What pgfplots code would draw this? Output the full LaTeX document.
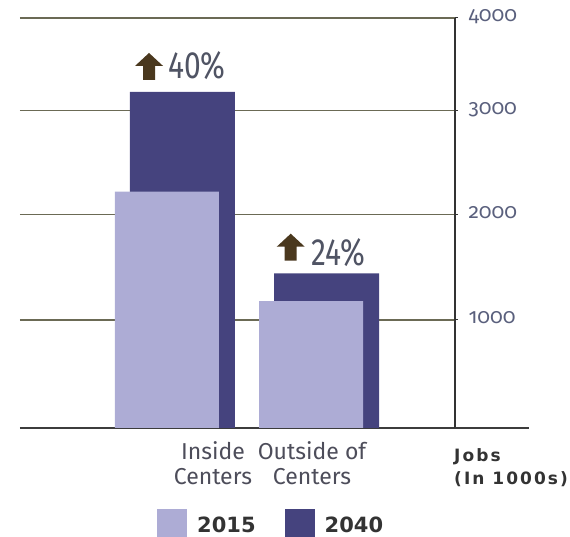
\documentclass[border=0pt]{standalone}
\usepackage{pgfplots}
\pgfplotsset{compat=1.18}
\usepackage{fontspec}
\usepackage{graphicx}
\setmainfont{Fira Sans}
\newfontfamily\tickfont[RawFeature=+onum]{Fira Sans}
\newcommand\osf[1]{{\tickfont\addfontfeature{Numbers=OldStyle}#1}}
\newfontfamily\legfont{DejaVu Sans}
\newfontfamily\jobsfont[LetterSpace=12.0]{DejaVu Sans}
\definecolor{lightbar}{HTML}{ADACD5}
\definecolor{darkbar}{HTML}{45437E}
\definecolor{gridc}{HTML}{6B6A55}
\definecolor{axisc}{HTML}{333333}
\definecolor{basec}{HTML}{3C3C3C}
\definecolor{arrowc}{HTML}{4A381E}
\definecolor{pctc}{HTML}{505464}
\definecolor{catc}{HTML}{4D4D5A}
\definecolor{tickc}{HTML}{5A607D}
\definecolor{legc}{HTML}{333333}
\begin{document}
\begin{tikzpicture}
\useasboundingbox (-20pt,-109pt) rectangle (550pt,428pt);
\begin{axis}[
  at={(0,0)}, anchor=south west,
  scale only axis, width=435pt, height=410pt,
  % the reference's value axis is slightly uneven: map each 1000-step onto its drawn span
  y coord trafo/.code={\pgfmathparse{(#1<=1000)*(#1*0.108) + (#1>1000)*(#1<=2000)*(108+(#1-1000)*0.1055) + (#1>2000)*(#1<=3000)*(213.5+(#1-2000)*0.104) + (#1>3000)*(317.5+(#1-3000)*0.0925)}},
  xmin=-1.0208, xmax=2.0, ymin=0, ymax=4000,
  clip=false,
  axis x line*=bottom, axis y line*=right,
  x axis line style={color=basec, line width=1.5pt, -},
  y axis line style={color=axisc, line width=1.2pt, -},
  /pgf/number format/assume math mode=true,
  ytick={1000,2000,3000,4000},
  yticklabels={\osf{1000},\osf{2000},\osf{3000},\osf{4000}},
  ymajorgrids, grid style={color=gridc, line width=1.2pt},
  ytick style={color=axisc, line width=1pt},
  major tick length=3pt, tick align=outside,
  yticklabel style={font=\tickfont\fontsize{21}{21}\selectfont, text=tickc, anchor=base west, xshift=7pt, yshift=-4pt},
  xtick={0.319,1.007},
  xticklabels={Inside\\Centers, Outside of\\Centers},
  x tick style={draw=none},
  xticklabel style={align=center, font=\fontsize{23}{25.5}\selectfont, text=catc, anchor=north, inner sep=0pt, yshift=-10pt},
  legend columns=2,
  reverse legend,
  legend style={at={(0.315,0)}, anchor=north west, yshift=-81pt, draw=none, fill=none, inner sep=0pt,
    /tikz/every odd column/.append style={column sep=10pt},
    /tikz/every even column/.append style={column sep=29pt},
    nodes={inner sep=0pt, font=\legfont\bfseries\fontsize{21}{21}\selectfont, text=legc}},
  legend image code/.code={\fill[#1] (0pt,-12pt) rectangle (30pt,16pt);},
]
\addplot[ybar, bar width=105pt, bar shift=15.5pt, fill=darkbar, draw=none] coordinates {(0,3200) (1,1443)};
\addlegendentry{2040}
\addplot[ybar, bar width=104pt, bar shift=0pt, fill=lightbar, draw=none] coordinates {(0,2220) (1,1180)};
\addlegendentry{2015}
\draw[color=basec, line width=1.5pt] (rel axis cs:1,0) -- ++(74pt,0pt);
% arrows
\fill[arrowc] (axis cs:-0.222,3330) ++(8pt,0pt) -- ++(0pt,14pt) -- ++(-8pt,0pt) -- ++(14pt,13pt) -- ++(14pt,-13pt) -- ++(-8pt,0pt) -- ++(0pt,-14pt) -- cycle;
\fill[arrowc] (axis cs:0.762,1562) ++(8pt,0pt) -- ++(0pt,14pt) -- ++(-8pt,0pt) -- ++(14pt,13pt) -- ++(14pt,-13pt) -- ++(-8pt,0pt) -- ++(0pt,-14pt) -- cycle;
\node[anchor=base west, inner sep=0pt, text=pctc, font=\fontsize{38}{38}\selectfont] at (axis cs:0.007,3351) {\scalebox{0.79}[1]{40\%}};
\node[anchor=base west, inner sep=0pt, text=pctc, font=\fontsize{38}{38}\selectfont] at (axis cs:1.0,1521) {\scalebox{0.79}[1]{24\%}};
\node[anchor=base west, inner sep=0pt, text=axisc, font=\jobsfont\bfseries\fontsize{17}{17}\selectfont] at ([xshift=-1pt,yshift=-34pt]rel axis cs:1,0) {Jobs};
\node[anchor=base west, inner sep=0pt, text=axisc, font=\jobsfont\bfseries\fontsize{17}{17}\selectfont] at ([xshift=-1pt,yshift=-57pt]rel axis cs:1,0) {(In 1000s)};
\end{axis}
\end{tikzpicture}
\end{document}
